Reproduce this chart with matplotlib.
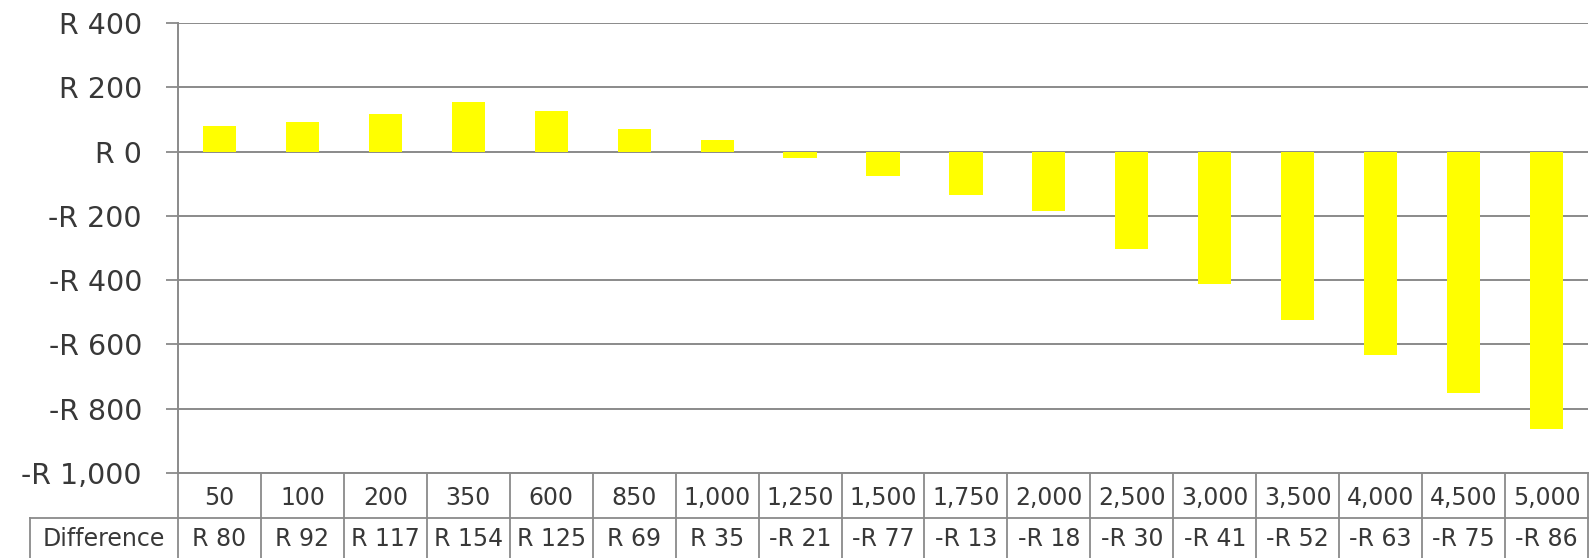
import matplotlib
matplotlib.use("Agg")
import matplotlib.pyplot as plt
from matplotlib.transforms import blended_transform_factory

# ---- data ----
categories = ["50", "100", "200", "350", "600", "850", "1,000", "1,250", "1,500",
              "1,750", "2,000", "2,500", "3,000", "3,500", "4,000", "4,500", "5,000"]
differences = [80, 92, 117, 154, 125, 69, 35, -21, -77,
               -134, -186, -302, -411, -524, -634, -750, -862]
# text as displayed (truncated) in the data table row
table_labels = ["R 80", "R 92", "R 117", "R 154", "R 125", "R 69", "R 35", "-R 21", "-R 77",
                "-R 13", "-R 18", "-R 30", "-R 41", "-R 52", "-R 63", "-R 75", "-R 86"]
row_label = "Difference"
y_ticks = [400, 200, 0, -200, -400, -600, -800, -1000]

W, H = 1593, 558
fig = plt.figure(figsize=(W / 100, H / 100), dpi=100)
fig.patch.set_facecolor("white")

ax_left, ax_right = 178, 1588
ax_top, ax_bot = 23, 473
ax = fig.add_axes([ax_left / W, 1 - ax_bot / H, (ax_right - ax_left) / W, (ax_bot - ax_top) / H])

text_col = "#383838"
grid_col = "#8a8a8a"
line_col = "#8a8a8a"

x = list(range(len(categories)))
ax.bar(x, differences, width=0.4, color="#FFFF00", zorder=3)

ax.set_xlim(-0.5, len(categories) - 0.5)
ax.set_ylim(-1000, 400)
ax.set_yticks(y_ticks)

def fmt(v):
    s = f"{abs(v):,}"
    return ("-R " if v < 0 else "R ") + s

ax.set_yticklabels([fmt(v) for v in y_ticks], fontsize=20.5, color=text_col)
ax.tick_params(axis="y", length=9, width=1.3, color=line_col, pad=17)
ax.set_xticks([])
ax.yaxis.grid(True, color=grid_col, linewidth=1.4, zorder=0)
ax.set_axisbelow(True)
for s in ["top", "right"]:
    ax.spines[s].set_visible(False)
ax.spines["left"].set_color(line_col)
ax.spines["left"].set_linewidth(1.4)
ax.spines["bottom"].set_color(line_col)
ax.spines["bottom"].set_linewidth(1.4)

# ---- data table ----
trans = blended_transform_factory(ax.transData, fig.transFigure)
def fy(px):
    return 1 - px / H

row1_top, row_div, row2_bot = 473, 518, 575
lw = 1.3
for k in range(len(categories) + 1):
    xb = k - 0.5
    ax.plot([xb, xb], [fy(row1_top), fy(row2_bot)], transform=trans, color=line_col,
            lw=lw, clip_on=False, zorder=5)
left_fig = 30 / W
fig.add_artist(plt.Line2D([left_fig, left_fig], [fy(row_div), fy(row2_bot)],
                          transform=fig.transFigure, color=line_col, lw=lw))
fig.add_artist(plt.Line2D([left_fig, ax_right / W], [fy(row_div), fy(row_div)],
                          transform=fig.transFigure, color=line_col, lw=lw))

for i, (c, t) in enumerate(zip(categories, table_labels)):
    ax.text(i, fy(498), c, transform=trans, ha="center", va="center",
            fontsize=17, color=text_col, clip_on=False)
    ax.text(i, fy(539), t, transform=trans, ha="center", va="center",
            fontsize=17, color=text_col, clip_on=False)
fig.text((left_fig * W + ax_left) / 2 / W, fy(539), row_label, ha="center", va="center",
         fontsize=17, color=text_col)

fig.savefig("out.png", dpi=100, facecolor="white")
